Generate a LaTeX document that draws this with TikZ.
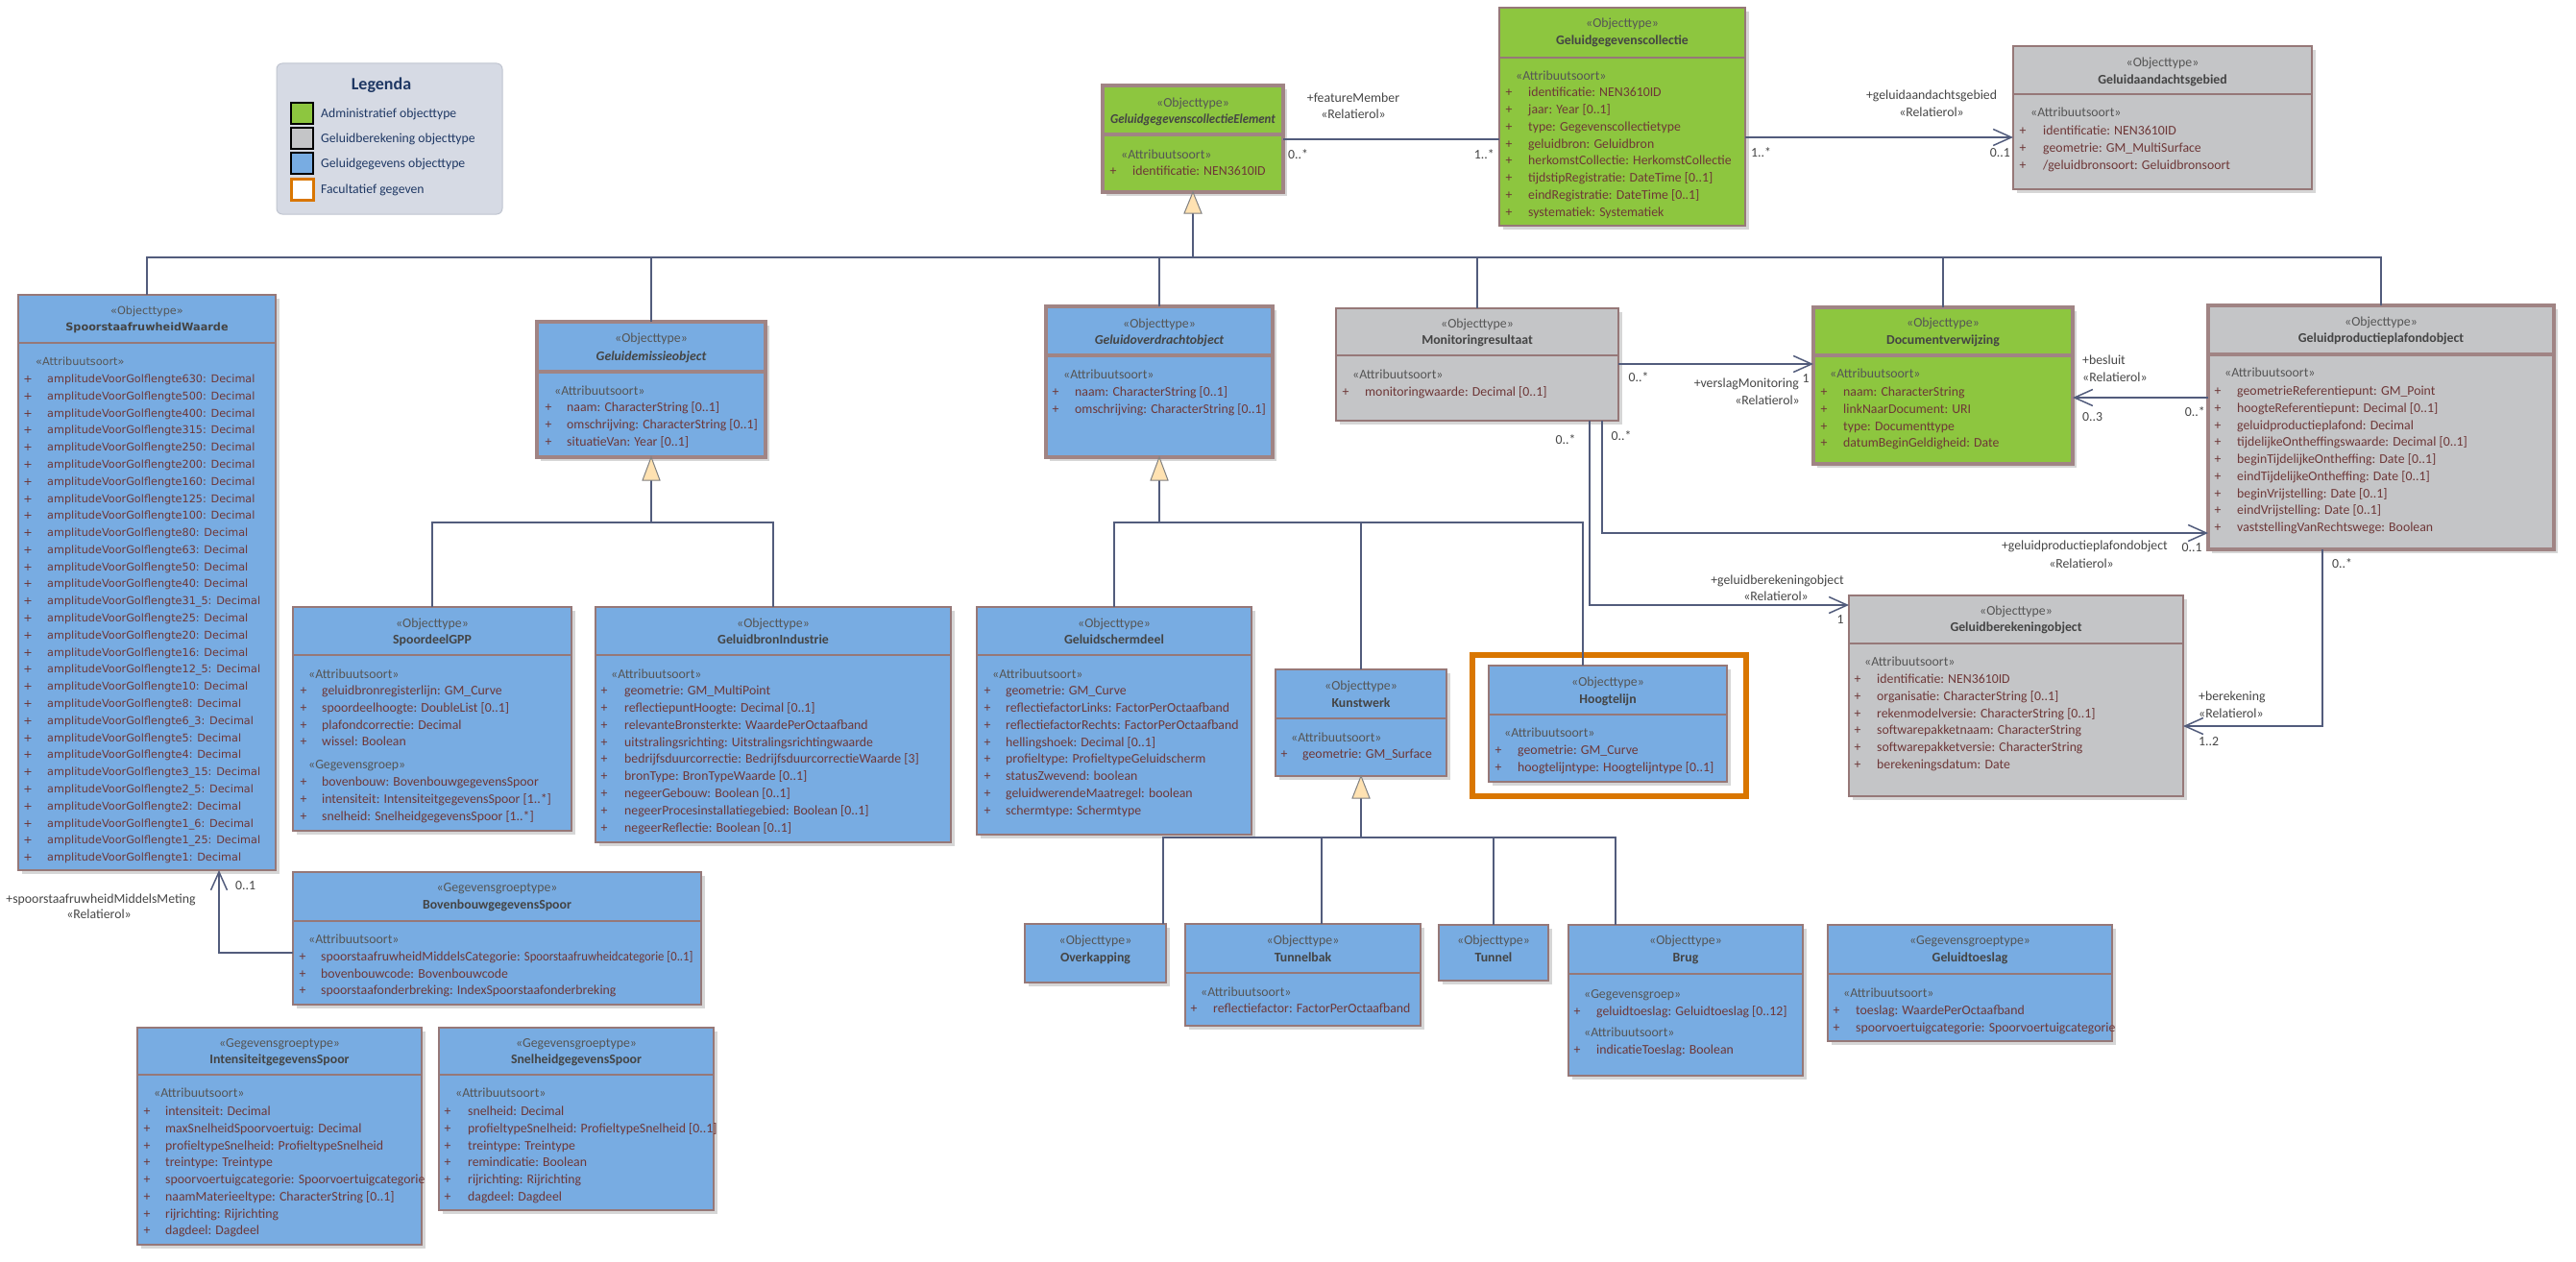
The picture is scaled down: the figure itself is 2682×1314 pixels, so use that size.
\documentclass[tikz,border=0pt]{standalone}
\usepackage{fontspec}
\setmainfont{Carlito}
\newfontfamily\dejavu{DejaVu Sans}
\usetikzlibrary{arrows.meta}
\definecolor{cGreen}{RGB}{141,198,63}
\definecolor{cBlue}{RGB}{120,172,226}
\definecolor{cGray}{RGB}{196,197,199}
\definecolor{cBorder}{RGB}{150,120,120}
\definecolor{cThick}{RGB}{160,132,132}
\definecolor{cShadow}{RGB}{214,214,214}
\definecolor{cLine}{RGB}{82,92,124}
\definecolor{cStereo}{RGB}{85,85,85}
\definecolor{cName}{RGB}{68,68,68}
\definecolor{cAttr}{RGB}{110,55,55}
\definecolor{cLbl}{RGB}{70,70,70}
\definecolor{cOrange}{RGB}{217,118,0}
\definecolor{cGenFill}{RGB}{255,226,178}
\definecolor{cLegF}{RGB}{214,218,228}
\definecolor{cLegB}{RGB}{192,197,208}
\definecolor{cNavy}{RGB}{31,56,100}
\newcommand\boxfont{\fontsize{13.8}{16}\selectfont}
\tikzset{
  box/.style={draw=cBorder, line width=1.3pt, inner sep=0pt, outer sep=0pt, anchor=north west},
  thickbox/.style={box, draw=cThick, line width=3.5pt},
  dvthin/.style={draw=cBorder, line width=1.3pt},
  dvthick/.style={draw=cThick, line width=3.5pt},
  stereo/.style={font=\boxfont, text=cStereo, inner sep=0pt, anchor=base},
  cname/.style={font=\boxfont\bfseries, text=cName, inner sep=0pt, anchor=base},
  atxt/.style={font=\boxfont, text=cAttr, inner sep=0pt, anchor=base west},
  lbl/.style={font=\fontsize{13.8}{16}\selectfont, text=cLbl, inner sep=0pt, anchor=base},
  conn/.style={draw=cLine, line width=1.5pt},
  arr/.style={conn, -{Straight Barb[length=19pt, width=17pt, line width=1.5pt]}},
  gen/.style={draw=gray, fill=cGenFill, line width=1pt},
  legtxt/.style={font=\fontsize{13.7}{16}\selectfont, text=cNavy, inner sep=0pt, anchor=base west},
  swatch/.style={draw=black, line width=1.5pt, minimum width=23, minimum height=22, inner sep=0pt, outer sep=0pt, anchor=north west},
}
\newcommand\cls[6]{%
  \fill[cShadow] (#2+4,#3+4) rectangle (#4+4,#5+4);
  \node[#6, minimum width={#4-#2}, minimum height={#5-#3}] (#1) at (#2,#3) {};}
\newcommand\dvd[4]{\draw[#4] (#1,#3) -- (#2,#3);}
\newcommand\hd[6]{%
  \node[stereo] (#1-st) at (#2,#3+4.5) {«#5»};
  \node[cname] (#1-nm) at (#2,#4+4.5) {#6};}
\newcommand\sect[4]{\node[stereo, anchor=base west] (#1) at (#2,#3+4.5) {«#4»};}
\newcommand\attrs[6]{%
  \foreach \atx [count=\i from 0] in {#6} {%
    \node[atxt] (#1-a\i) at (#3,{#4+4.5+\i*#5}) {\atx};
    \node[atxt, anchor=base] (#1-p\i) at (#2,{#4+4.5+\i*#5}) {+};}}
\begin{document}
\begin{tikzpicture}[x=1pt, y=-1pt]
\useasboundingbox (0,0) rectangle (2682,1314);
\fill[white] (0,0) rectangle (2682,1314);

% ---------------- Legend
\node[draw=cLegB, fill=cLegF, rounded corners=6pt, line width=1pt, minimum width=235, minimum height=157, inner sep=0pt, outer sep=0pt, anchor=north west] (leg) at (288,66) {};
\node[font=\fontsize{18}{20}\selectfont\bfseries, text=cNavy, inner sep=0pt, anchor=base] (legT) at (397,93) {Legenda};
\node[swatch, fill=cGreen] (sw1) at (303,107) {};
\node[swatch, fill=cGray] (sw2) at (303,133) {};
\node[swatch, fill=cBlue] (sw3) at (303,159) {};
\node[swatch, fill=white, draw=cOrange, line width=3pt] (sw4) at (303,186) {};
\node[legtxt] (lt1) at (334,122) {Administratief objecttype};
\node[legtxt] (lt2) at (334,148) {Geluidberekening objecttype};
\node[legtxt] (lt3) at (334,174) {Geluidgegevens objecttype};
\node[legtxt] (lt4) at (334,201.5) {Facultatief gegeven};

% ---------------- GeluidgegevenscollectieElement
\cls{gge}{1148}{89}{1336}{200}{thickbox, fill=cGreen}
\dvd{1148}{1336}{140}{dvthick}
\hd{gge}{1242}{107}{124}{Objecttype}{\itshape\scalebox{0.93}[1]{GeluidgegevenscollectieElement}}
\sect{gge-s1}{1167}{161}{Attribuutsoort}
\attrs{gge}{1159}{1179}{178}{17.8}{{identificatie: NEN3610ID}}

% ---------------- Geluidgegevenscollectie
\cls{ggc}{1561}{8}{1817}{235}{box, fill=cGreen}
\dvd{1561}{1817}{60}{dvthin}
\hd{ggc}{1689}{24}{42}{Objecttype}{Geluidgegevenscollectie}
\sect{ggc-s1}{1578}{79}{Attribuutsoort}
\attrs{ggc}{1571}{1591}{96}{17.85}{{identificatie: NEN3610ID},{jaar: Year [0..1]},{type: Gegevenscollectietype},{geluidbron: Geluidbron},{herkomstCollectie: HerkomstCollectie},{tijdstipRegistratie: DateTime [0..1]},{eindRegistratie: DateTime [0..1]},{systematiek: Systematiek}}

% ---------------- Geluidaandachtsgebied
\cls{gag}{2096}{48}{2407}{197}{box, fill=cGray}
\dvd{2096}{2407}{98}{dvthin}
\hd{gag}{2251.5}{65}{83}{Objecttype}{Geluidaandachtsgebied}
\sect{gag-s1}{2114}{117}{Attribuutsoort}
\attrs{gag}{2106}{2127}{136}{18}{{identificatie: NEN3610ID},{geometrie: GM\_MultiSurface},{/geluidbronsoort: Geluidbronsoort}}

% ---------------- SpoorstaafruwheidWaarde
\begin{scope}
\renewcommand\boxfont{\dejavu\fontsize{11.25}{13}\selectfont}
\cls{srw}{19}{307}{287}{906}{box, fill=cBlue}
\dvd{19}{287}{357}{dvthin}
\hd{srw}{153}{323}{340}{Objecttype}{SpoorstaafruwheidWaarde}
\sect{srw-s1}{37}{376}{Attribuutsoort}
\attrs{srw}{29}{49}{394}{17.79}{{amplitudeVoorGolflengte630: Decimal},{amplitudeVoorGolflengte500: Decimal},{amplitudeVoorGolflengte400: Decimal},{amplitudeVoorGolflengte315: Decimal},{amplitudeVoorGolflengte250: Decimal},{amplitudeVoorGolflengte200: Decimal},{amplitudeVoorGolflengte160: Decimal},{amplitudeVoorGolflengte125: Decimal},{amplitudeVoorGolflengte100: Decimal},{amplitudeVoorGolflengte80: Decimal},{amplitudeVoorGolflengte63: Decimal},{amplitudeVoorGolflengte50: Decimal},{amplitudeVoorGolflengte40: Decimal},{amplitudeVoorGolflengte31\_5: Decimal},{amplitudeVoorGolflengte25: Decimal},{amplitudeVoorGolflengte20: Decimal},{amplitudeVoorGolflengte16: Decimal},{amplitudeVoorGolflengte12\_5: Decimal},{amplitudeVoorGolflengte10: Decimal},{amplitudeVoorGolflengte8: Decimal},{amplitudeVoorGolflengte6\_3: Decimal},{amplitudeVoorGolflengte5: Decimal},{amplitudeVoorGolflengte4: Decimal},{amplitudeVoorGolflengte3\_15: Decimal},{amplitudeVoorGolflengte2\_5: Decimal},{amplitudeVoorGolflengte2: Decimal},{amplitudeVoorGolflengte1\_6: Decimal},{amplitudeVoorGolflengte1\_25: Decimal},{amplitudeVoorGolflengte1: Decimal}}
\end{scope}

% ---------------- Geluidemissieobject
\cls{geo}{559}{335}{797}{476}{thickbox, fill=cBlue}
\dvd{559}{797}{387}{dvthick}
\hd{geo}{678}{352}{371}{Objecttype}{\itshape Geluidemissieobject}
\sect{geo-s1}{577}{407}{Attribuutsoort}
\attrs{geo}{571}{590}{424}{18}{{naam: CharacterString [0..1]},{omschrijving: CharacterString [0..1]},{situatieVan: Year [0..1]}}

% ---------------- Geluidoverdrachtobject
\cls{goo}{1089}{319}{1325}{476}{thickbox, fill=cBlue}
\dvd{1089}{1325}{370}{dvthick}
\hd{goo}{1207}{337}{354}{Objecttype}{\itshape Geluidoverdrachtobject}
\sect{goo-s1}{1107}{390}{Attribuutsoort}
\attrs{goo}{1099}{1119}{408}{18}{{naam: CharacterString [0..1]},{omschrijving: CharacterString [0..1]}}

% ---------------- Monitoringresultaat
\cls{mon}{1391}{321}{1685}{438}{box, fill=cGray}
\dvd{1391}{1685}{370}{dvthin}
\hd{mon}{1538}{337}{354}{Objecttype}{Monitoringresultaat}
\sect{mon-s1}{1408}{390}{Attribuutsoort}
\attrs{mon}{1401}{1421}{408}{18}{{monitoringwaarde: Decimal [0..1]}}

% ---------------- Documentverwijzing
\cls{doc}{1888}{320}{2158}{483}{thickbox, fill=cGreen}
\dvd{1888}{2158}{370}{dvthick}
\hd{doc}{2023}{336}{354}{Objecttype}{Documentverwijzing}
\sect{doc-s1}{1905}{389}{Attribuutsoort}
\attrs{doc}{1899}{1919}{408}{17.8}{{naam: CharacterString},{linkNaarDocument: URI},{type: Documenttype},{datumBeginGeldigheid: Date}}

% ---------------- Geluidproductieplafondobject
\cls{gppo}{2299}{318}{2659}{572}{thickbox, fill=cGray}
\dvd{2299}{2659}{369}{dvthick}
\hd{gppo}{2479}{335}{352}{Objecttype}{Geluidproductieplafondobject}
\sect{gppo-s1}{2316}{388}{Attribuutsoort}
\attrs{gppo}{2309}{2329}{407}{17.75}{{geometrieReferentiepunt: GM\_Point},{hoogteReferentiepunt: Decimal [0..1]},{geluidproductieplafond: Decimal},{tijdelijkeOntheffingswaarde: Decimal [0..1]},{beginTijdelijkeOntheffing: Date [0..1]},{eindTijdelijkeOntheffing: Date [0..1]},{beginVrijstelling: Date [0..1]},{eindVrijstelling: Date [0..1]},{vaststellingVanRechtswege: Boolean}}

% ---------------- Geluidberekeningobject
\cls{gbo}{1925}{620}{2273}{829}{box, fill=cGray}
\dvd{1925}{2273}{670}{dvthin}
\hd{gbo}{2099}{636}{653}{Objecttype}{Geluidberekeningobject}
\sect{gbo-s1}{1941}{689}{Attribuutsoort}
\attrs{gbo}{1934}{1954}{707}{17.8}{{identificatie: NEN3610ID},{organisatie: CharacterString [0..1]},{rekenmodelversie: CharacterString [0..1]},{softwarepakketnaam: CharacterString},{softwarepakketversie: CharacterString},{berekeningsdatum: Date}}

% ---------------- SpoordeelGPP
\cls{spg}{305}{632}{595}{865}{box, fill=cBlue}
\dvd{305}{595}{682}{dvthin}
\hd{spg}{450}{649}{666}{Objecttype}{SpoordeelGPP}
\sect{spg-s1}{321}{702}{Attribuutsoort}
\attrs{spg}{316}{335}{719}{17.8}{{geluidbronregisterlijn: GM\_Curve},{spoordeelhoogte: DoubleList [0..1]},{plafondcorrectie: Decimal},{wissel: Boolean}}
\sect{spg-s2}{321}{796}{Gegevensgroep}
\attrs{spgb}{316}{335}{814}{18}{{bovenbouw: BovenbouwgegevensSpoor},{intensiteit: IntensiteitgegevensSpoor [1..*]},{snelheid: SnelheidgegevensSpoor [1..*]}}

% ---------------- GeluidbronIndustrie
\cls{gbi}{620}{632}{990}{877}{box, fill=cBlue}
\dvd{620}{990}{682}{dvthin}
\hd{gbi}{805}{649}{666}{Objecttype}{GeluidbronIndustrie}
\sect{gbi-s1}{636}{702}{Attribuutsoort}
\attrs{gbi}{629}{650}{719}{17.85}{{geometrie: GM\_MultiPoint},{reflectiepuntHoogte: Decimal [0..1]},{relevanteBronsterkte: WaardePerOctaafband},{uitstralingsrichting: Uitstralingsrichtingwaarde},{bedrijfsduurcorrectie: BedrijfsduurcorrectieWaarde [3]},{bronType: BronTypeWaarde [0..1]},{negeerGebouw: Boolean [0..1]},{negeerProcesinstallatiegebied: Boolean [0..1]},{negeerReflectie: Boolean [0..1]}}

% ---------------- Geluidschermdeel
\cls{gsd}{1017}{632}{1303}{869}{box, fill=cBlue}
\dvd{1017}{1303}{682}{dvthin}
\hd{gsd}{1160}{649}{666}{Objecttype}{Geluidschermdeel}
\sect{gsd-s1}{1033}{702}{Attribuutsoort}
\attrs{gsd}{1028}{1047}{719}{17.85}{{geometrie: GM\_Curve},{reflectiefactorLinks: FactorPerOctaafband},{reflectiefactorRechts: FactorPerOctaafband},{hellingshoek: Decimal [0..1]},{profieltype: ProfieltypeGeluidscherm},{statusZwevend: boolean},{geluidwerendeMaatregel: boolean},{schermtype: Schermtype}}

% ---------------- Kunstwerk
\cls{kw}{1328}{697}{1506}{808}{box, fill=cBlue}
\dvd{1328}{1506}{748}{dvthin}
\hd{kw}{1417}{714}{732}{Objecttype}{Kunstwerk}
\sect{kw-s1}{1344}{768}{Attribuutsoort}
\attrs{kw}{1337}{1356}{785}{18}{{geometrie: GM\_Surface}}

% ---------------- Hoogtelijn (facultatief)
\node[draw=cOrange, line width=5.5pt, minimum width=285, minimum height=147, inner sep=0pt, outer sep=0pt, anchor=north west] (opt) at (1533,682) {};
\cls{hl}{1550}{693}{1798}{814}{box, fill=cBlue}
\dvd{1550}{1798}{744}{dvthin}
\hd{hl}{1674}{710}{728}{Objecttype}{Hoogtelijn}
\sect{hl-s1}{1566}{763}{Attribuutsoort}
\attrs{hl}{1560}{1580}{781}{18}{{geometrie: GM\_Curve},{hoogtelijntype: Hoogtelijntype [0..1]}}

% ---------------- BovenbouwgegevensSpoor
\cls{bov}{305}{908}{730}{1046}{box, fill=cBlue}
\dvd{305}{730}{959}{dvthin}
\hd{bov}{517.5}{924}{942}{Gegevensgroeptype}{BovenbouwgegevensSpoor}
\sect{bov-s1}{321}{978}{Attribuutsoort}
\attrs{bov}{315}{334}{996}{17.6}{{spoorstaafruwheidMiddelsCategorie: \scalebox{0.92}[1]{Spoorstaafruwheidcategorie [0..1]}},{bovenbouwcode: Bovenbouwcode},{spoorstaafonderbreking: IndexSpoorstaafonderbreking}}

% ---------------- IntensiteitgegevensSpoor
\cls{int}{143}{1070}{439}{1296}{box, fill=cBlue}
\dvd{143}{439}{1119}{dvthin}
\hd{int}{291}{1086}{1103}{Gegevensgroeptype}{IntensiteitgegevensSpoor}
\sect{int-s1}{160}{1138}{Attribuutsoort}
\attrs{int}{153}{172}{1157}{17.75}{{intensiteit: Decimal},{maxSnelheidSpoorvoertuig: Decimal},{profieltypeSnelheid: ProfieltypeSnelheid},{treintype: Treintype},{spoorvoertuigcategorie: Spoorvoertuigcategorie},{naamMaterieeltype: CharacterString [0..1]},{rijrichting: Rijrichting},{dagdeel: Dagdeel}}

% ---------------- SnelheidgegevensSpoor
\cls{snh}{457}{1070}{743}{1260}{box, fill=cBlue}
\dvd{457}{743}{1119}{dvthin}
\hd{snh}{600}{1086}{1103}{Gegevensgroeptype}{SnelheidgegevensSpoor}
\sect{snh-s1}{474}{1138}{Attribuutsoort}
\attrs{snh}{466}{487}{1157}{17.75}{{snelheid: Decimal},{profieltypeSnelheid: ProfieltypeSnelheid [0..1]},{treintype: Treintype},{remindicatie: Boolean},{rijrichting: Rijrichting},{dagdeel: Dagdeel}}

% ---------------- Kunstwerk subtypes
\cls{ovk}{1067}{962}{1214}{1023}{box, fill=cBlue}
\hd{ovk}{1140.5}{979}{997}{Objecttype}{Overkapping}

\cls{tbk}{1234}{962}{1479}{1068}{box, fill=cBlue}
\dvd{1234}{1479}{1013}{dvthin}
\hd{tbk}{1356.5}{979}{997}{Objecttype}{Tunnelbak}
\sect{tbk-s1}{1250}{1033}{Attribuutsoort}
\attrs{tbk}{1243}{1263}{1050}{18}{{reflectiefactor: FactorPerOctaafband}}

\cls{tun}{1498}{963}{1612}{1021}{box, fill=cBlue}
\hd{tun}{1555}{979}{997}{Objecttype}{Tunnel}

\cls{brg}{1633}{963}{1877}{1120}{box, fill=cBlue}
\dvd{1633}{1877}{1014}{dvthin}
\hd{brg}{1755}{979}{997}{Objecttype}{Brug}
\sect{brg-s1}{1649}{1035}{Gegevensgroep}
\attrs{brg}{1642}{1662}{1053}{18}{{geluidtoeslag: Geluidtoeslag [0..12]}}
\sect{brg-s2}{1649}{1075}{Attribuutsoort}
\attrs{brgb}{1642}{1662}{1093}{18}{{indicatieToeslag: Boolean}}

\cls{gts}{1903}{963}{2199}{1084}{box, fill=cBlue}
\dvd{1903}{2199}{1014}{dvthin}
\hd{gts}{2051}{979}{997}{Gegevensgroeptype}{Geluidtoeslag}
\sect{gts-s1}{1919}{1034}{Attribuutsoort}
\attrs{gts}{1912}{1932}{1052}{18}{{toeslag: WaardePerOctaafband},{spoorvoertuigcategorie: Spoorvoertuigcategorie}}

% ================= Connectors
% generalisation to GeluidgegevenscollectieElement
\draw[conn] (gge.south |- 0,222) -- (gge.south |- 0,268);
\draw[conn] (srw.north) -- (srw.north |- 0,268) -- (gppo.north |- 0,268) -- (gppo.north);
\draw[conn] (geo.north) -- (geo.north |- 0,268);
\draw[conn] (goo.north) -- (goo.north |- 0,268);
\draw[conn] (mon.north) -- (mon.north |- 0,268);
\draw[conn] (doc.north) -- (doc.north |- 0,268);
\draw[gen] (gge.south) -- ++(-9,22) -- ++(18,0) -- cycle;

% generalisation to Geluidemissieobject
\draw[conn] (geo.south |- 0,500) -- (geo.south |- 0,544);
\draw[conn] (spg.north) -- (spg.north |- 0,544) -- (gbi.north |- 0,544) -- (gbi.north);
\draw[gen] (geo.south) -- ++(-9,24) -- ++(18,0) -- cycle;

% generalisation to Geluidoverdrachtobject
\draw[conn] (goo.south |- 0,500) -- (goo.south |- 0,544);
\draw[conn] (gsd.north) -- (gsd.north |- 0,544) -- (1648,544) -- (hl.north -| 1648,0);
\draw[conn] (kw.north) -- (kw.north |- 0,544);
\draw[gen] (goo.south) -- ++(-9,24) -- ++(18,0) -- cycle;

% generalisation to Kunstwerk
\draw[conn] (kw.south |- 0,831) -- (kw.south |- 0,872);
\draw[conn] (ovk.north -| 1211,0) -- (1211,872) -- (1682,872) -- (brg.north -| 1682,0);
\draw[conn] (tbk.north -| 1376,0) -- (1376,872);
\draw[conn] (tun.north) -- (tun.north |- 0,872);
\draw[gen] (kw.south) -- ++(-9,23) -- ++(18,0) -- cycle;

% associations
\draw[conn] (gge.east |- 0,145) -- (ggc.west |- 0,145);
\draw[arr] (ggc.east |- 0,143) -- (gag.west |- 0,143);
\draw[arr] (mon.east |- 0,379) -- (doc.west |- 0,379);
\draw[arr] (gppo.west |- 0,414) -- (doc.east |- 0,414);
\draw[arr] (mon.south -| 1668,0) -- (1668,555) -- (gppo.west |- 0,555);
\draw[arr] (mon.south -| 1655,0) -- (1655,630) -- (gbo.west |- 0,630);
\draw[arr] (gppo.south -| 2418,0) -- (2418,756) -- (gbo.east |- 0,756);
\draw[arr] (bov.west |- 0,992) -- (228,992) -- (srw.south -| 228,0);

% labels
\node[lbl] (fm1) at (1409,106.5) {+featureMember};
\node[lbl] (fm2) at (1409,123.5) {«Relatierol»};
\node[lbl, anchor=base west] (fm3) at (1341,165.5) {0..*};
\node[lbl, anchor=base east] (fm4) at (1556,165.5) {1..*};

\node[lbl] (ga1) at (2011,103.5) {+geluidaandachtsgebied};
\node[lbl] (ga2) at (2011,121.5) {«Relatierol»};
\node[lbl, anchor=base west] (ga3) at (1823,163.5) {1..*};
\node[lbl, anchor=base east] (ga4) at (2093,163.5) {0..1};

\node[lbl] (vm1) at (1706,397.5) {0..*};
\node[lbl, anchor=base east] (vm2) at (1873,403.5) {+verslagMonitoring};
\node[lbl] (vm3) at (1840,421.5) {«Relatierol»};
\node[lbl] (vm4) at (1880,398.5) {1};

\node[lbl, anchor=base west] (bs1) at (2168,379.5) {+besluit};
\node[lbl, anchor=base west] (bs2) at (2168,397.5) {«Relatierol»};
\node[lbl, anchor=base west] (bs3) at (2168,438.5) {0..3};
\node[lbl, anchor=base east] (bs4) at (2296,433.5) {0..*};

\node[lbl] (gp1) at (1688,458.5) {0..*};
\node[lbl, anchor=base east] (gp2) at (2257,572.5) {+geluidproductieplafondobject};
\node[lbl] (gp3) at (2167,591.5) {«Relatierol»};
\node[lbl] (gp4) at (2282,574.5) {0..1};

\node[lbl] (gb1) at (1630,462.5) {0..*};
\node[lbl, anchor=base east] (gb2) at (1920,608.5) {+geluidberekeningobject};
\node[lbl] (gb3) at (1849,625.5) {«Relatierol»};
\node[lbl] (gb4) at (1916,649.5) {1};

\node[lbl, anchor=base west] (bk1) at (2428,591.5) {0..*};
\node[lbl, anchor=base west] (bk2) at (2289,729.5) {+berekening};
\node[lbl, anchor=base west] (bk3) at (2289,747.5) {«Relatierol»};
\node[lbl, anchor=base west] (bk4) at (2289,776.5) {1..2};

\node[lbl, anchor=base west] (sm1) at (245,926.5) {0..1};
\node[lbl] (sm2) at (105,940.5) {+spoorstaafruwheidMiddelsMeting};
\node[lbl] (sm3) at (103,956.5) {«Relatierol»};
\end{tikzpicture}
\end{document}
